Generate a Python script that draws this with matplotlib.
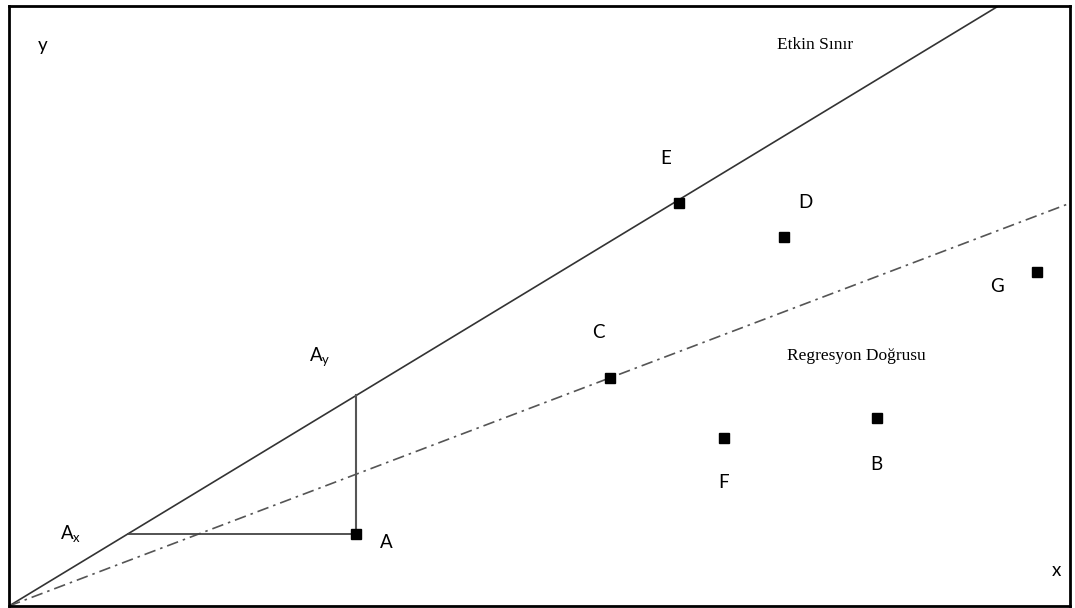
import numpy as np
import matplotlib.pyplot as plt

# noktalar (veri birimleri: x 0..106, y 0..60)
labels = ['A', 'B', 'C', 'D', 'E', 'F', 'G']
px = [34.7, 86.7, 60.0, 77.4, 66.9, 71.4, 102.7]
py = [7.2, 18.8, 22.8, 36.9, 40.3, 16.8, 33.4]
# etiket konumlari
lx = [37.7, 86.7, 58.9, 79.6, 65.6, 71.4, 98.7]
ly = [6.4, 14.1, 27.3, 40.4, 44.7, 12.4, 31.9]

xmax, ymax = 106, 60
slope_e = 0.607           # etkin sinir, E civarindan gecer
slope_r = py[2] / px[2]   # regresyon dogrusu, C'den gecer

fig = plt.figure(figsize=(10.75, 6.08), dpi=100)
ax = fig.add_axes([9 / 1075, 2 / 608, 1061 / 1075, 600 / 608])
ax.set_xlim(0, xmax)
ax.set_ylim(0, ymax)
ax.set_xticks([])
ax.set_yticks([])
for s in ax.spines.values():
    s.set_linewidth(2)
    s.set_color('black')

# etkin sinir
xe = np.array([0, ymax / slope_e])
ax.plot(xe, slope_e * xe, color='#333333', lw=1.2)
# regresyon
xr = np.array([0, xmax])
ax.plot(xr, slope_r * xr, color='#555555', lw=1.2, ls=(0, (7, 3, 1.5, 3)))

# A icin ucgen
ax_x = py[0] / slope_e
ay_y = slope_e * px[0]
ax.plot([ax_x, px[0]], [py[0], py[0]], color='#444444', lw=1.3)
ax.plot([px[0], px[0]], [py[0], ay_y], color='#555555', lw=1.5)

ax.plot(px, py, 's', color='black', ms=7, zorder=5)

sans = 'Lato'
for t, x, y in zip(labels, lx, ly):
    ax.text(x, y, t, fontsize=13.5, family=sans, ha='center', va='center')
ax.text(6.2, 7.2, r'A$_\mathregular{x}$', fontsize=13.5, family=sans, ha='center', va='center')
ax.text(31.0, 24.9, r'A$_\mathregular{y}$', fontsize=13.5, family=sans, ha='center', va='center')
ax.text(3.4, 56.0, 'y', fontsize=13.5, family=sans, ha='center', va='center')
ax.text(104.6, 3.5, 'x', fontsize=13.5, family=sans, ha='center', va='center')

ax.text(80.5, 56.1, 'Etkin Sınır', fontsize=12.5, family='Liberation Serif', ha='center', va='center')
ax.text(84.7, 25.0, 'Regresyon Doğrusu', fontsize=12.5, family='Liberation Serif', ha='center', va='center')

fig.savefig('out.png', dpi=100)
